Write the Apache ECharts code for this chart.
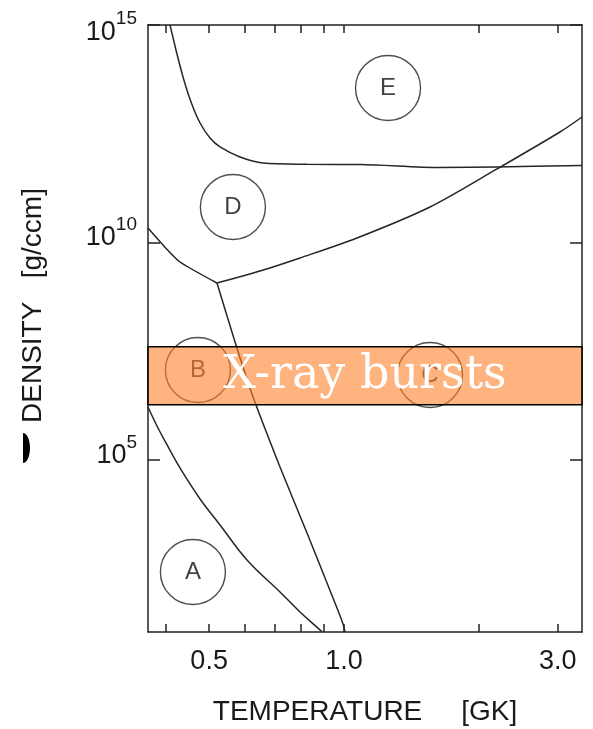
<!DOCTYPE html>
<html>
<head>
<meta charset="utf-8">
<script src="https://cdn.jsdelivr.net/npm/echarts@6/dist/echarts.min.js"></script>
<style>html,body{margin:0;padding:0;background:#fff;}#c{width:593px;height:729px;}</style>
</head>
<body>
<div id="c"></div>
<script>
// Axis ranges and ticks (temperature in GK, density in g/ccm)
const tempRange = [0.3652, 3.398];
const densityRange = [11.1, 1.0003e15];
const tempTicks = [0.4, 0.5, 0.6, 0.7, 0.8, 0.9, 1.0, 2.0, 3.0];
const tempLabels = [0.5, 1.0, 3.0];
const densityTicks = [1e5, 1e10, 1e15];

// Boundary curves [temperature, density]
const boundaryDE = [[0.4089,1e15],[0.4217,2.66e14],[0.4372,6.38e13],[0.4556,1.70e13],[0.4772,5.58e12],[0.5024,2.52e12],[0.5288,1.57e12],[0.5859,9.25e11],[0.6597,6.73e11],[0.8269,6.28e11],[1.086,6.21e11],[1.638,5.30e11],[2.195,5.45e11],[3.398,5.89e11]];
const boundaryLeft = [[0.3652,2.15e10],[0.398,7.9e9],[0.4304,3.56e9],[0.5206,1.17e9]];
const boundaryRise = [[0.5206,1.17e9],[0.6494,2.21e9],[0.7976,4.41e9],[1.069,1.27e10],[1.556,6.55e10],[2.195,4.9e11],[3.034,3.47e12],[3.398,7.67e12]];
const boundarySteep = [[0.5206,1.17e9],[0.574,4.4e7],[0.6232,3.29e6],[0.7197,6.9e4],[0.8269,2.1e3],[0.945,67.3],[0.995,17.0],[1.005,11.1]];
const boundaryA = [[0.3652,1.65e6],[0.3825,6.05e5],[0.4006,2.46e5],[0.4304,6.55e4],[0.4772,1.27e4],[0.5288,3.21e3],[0.6074,502],[0.7197,92.5],[0.7976,32.1],[0.8839,12.4],[0.893,11.1]];

// Region markers
const regionNames = ['A', 'B', 'C', 'D', 'E'];
const regionTemps = [0.460, 0.472, 1.556, 0.565, 1.254];
const regionDensities = [266, 1.17e7, 9.0e6, 6.55e10, 3.56e13];

// X-ray burst band
const burstLabel = 'X-ray bursts';
const burstDensity = [1.85e6, 4.0e7];

const chart = echarts.init(document.getElementById('c'), null, {renderer: 'canvas'});
const axisColor = '#222';
const lineColor = '#262626';
const textColor = '#1a1a1a';
const sans = 'Liberation Sans, Arial, Helvetica, sans-serif';

function xAx(pos, showLabels) {
  return {
    type: 'log', position: pos, min: tempRange[0], max: tempRange[1],
    axisLine: {show: true, onZero: false, lineStyle: {color: axisColor, width: 1.5}},
    axisTick: {show: true, inside: true, length: 8, customValues: tempTicks, lineStyle: {color: axisColor, width: 1.5}},
    minorTick: {show: false}, splitLine: {show: false}, minorSplitLine: {show: false},
    axisLabel: {show: showLabels, customValues: tempLabels, margin: 16, color: textColor, fontSize: 27, fontFamily: sans,
      formatter: v => Number(v).toFixed(1)},
    name: showLabels ? 'TEMPERATURE     [GK]' : '', nameLocation: 'middle', nameGap: 66,
    nameTextStyle: {fontSize: 28, color: textColor, fontFamily: sans}
  };
}
function yAx(pos, showLabels) {
  return {
    type: 'log', position: pos, min: densityRange[0], max: densityRange[1],
    axisLine: {show: true, onZero: false, lineStyle: {color: axisColor, width: 1.5}},
    axisTick: {show: true, inside: true, length: 12, customValues: densityTicks, lineStyle: {color: axisColor, width: 1.5}},
    minorTick: {show: false}, splitLine: {show: false}, minorSplitLine: {show: false},
    axisLabel: {show: showLabels, customValues: densityTicks, margin: 11, padding: [0, 0, 21, 0],
      showMinLabel: true, showMaxLabel: true,
      formatter: v => {
        const e = Math.round(Math.log10(v));
        return e >= 15 ? '{t|10}{u|' + e + '}' : '{b|10}{s|' + e + '}';
      },
      rich: {
        b: {fontSize: 27, color: textColor, fontFamily: sans, padding: [12, 0, 0, 0]},
        s: {fontSize: 19, color: textColor, fontFamily: sans, verticalAlign: 'top', padding: [3, 0, 0, 0]},
        t: {fontSize: 27, color: textColor, fontFamily: sans, padding: [36, 0, 0, 0]},
        u: {fontSize: 19, color: textColor, fontFamily: sans, verticalAlign: 'top', padding: [26, 0, 0, 0]}
      }},
    name: showLabels ? 'DENSITY   [g/ccm]' : '', nameLocation: 'middle', nameGap: 101,
    nameTextStyle: {fontSize: 28, color: textColor, fontFamily: sans, padding: [0, 0, 0, 46]}
  };
}

function curve(data, smooth) {
  return {type: 'line', data: data, smooth: smooth, symbol: 'none', clip: true, z: 3,
    lineStyle: {color: lineColor, width: 1.5}, silent: true};
}

const option = {
  animation: false,
  backgroundColor: '#fff',
  grid: {left: 148, right: 11, top: 25, bottom: 97, containLabel: false, outerBoundsMode: 'none'},
  xAxis: [xAx('bottom', true), xAx('top', false)],
  yAxis: [yAx('left', true), yAx('right', false)],
  graphic: [
    {type: 'ellipse', shape: {cx: 23, cy: 448, rx: 7, ry: 15}, style: {fill: '#000'}, z: 100},
    {type: 'rect', shape: {x: 0, y: 430, width: 23, height: 36}, style: {fill: '#fff'}, z: 101}
  ],
  series: [
    curve(boundaryDE, 0.3),
    curve(boundaryLeft, 0.2),
    curve(boundaryRise, 0.3),
    curve(boundarySteep, 0.25),
    curve(boundaryA, 0.4),
    {
      type: 'scatter', z: 4, silent: true,
      data: regionNames.map((n, i) => [regionTemps[i], regionDensities[i], n]),
      symbol: 'circle', symbolSize: 65,
      itemStyle: {color: 'rgba(255,255,255,0)', borderColor: '#222', borderWidth: 1.4},
      label: {show: true, position: 'inside', formatter: p => p.data[2], fontSize: 24, color: '#111', fontFamily: sans}
    },
    {
      type: 'line', data: [], silent: true,
      markArea: {
        silent: true, z: 10,
        itemStyle: {color: 'rgba(255,128,42,0.6)', borderColor: '#000', borderWidth: 1.5},
        label: {show: true, position: 'inside', color: '#fff', fontSize: 46, fontFamily: 'DejaVu Serif, serif'},
        data: [[
          {name: burstLabel, coord: [tempRange[0], burstDensity[0]]},
          {coord: [tempRange[1], burstDensity[1]]}
        ]]
      }
    }
  ]
};
chart.setOption(option);
</script>
</body>
</html>
